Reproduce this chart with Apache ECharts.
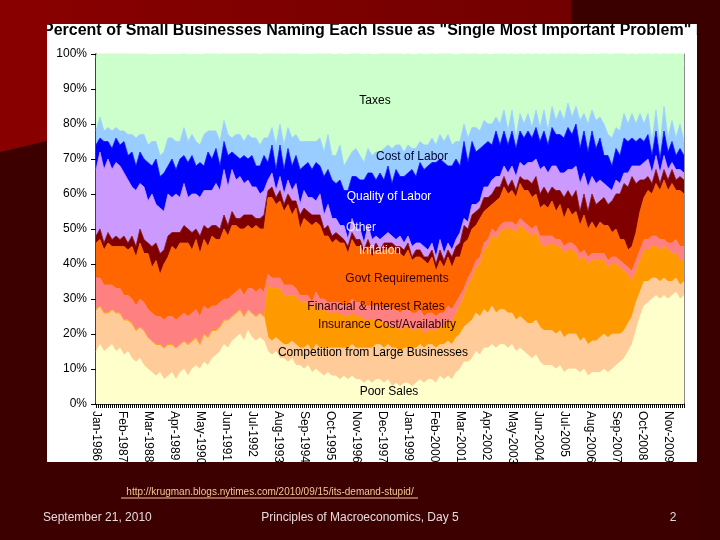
<!DOCTYPE html>
<html><head><meta charset="utf-8">
<script src="https://cdn.jsdelivr.net/npm/echarts@6/dist/echarts.min.js"></script>
<style>html,body{margin:0;padding:0;background:#3C0000}#c{width:720px;height:540px}</style>
</head><body><div id="c"></div>
<script>
// x tick labels (every 13 months, starting Jan-1986)
const xTickLabels = ['Jan-1986','Feb-1987','Mar-1988','Apr-1989','May-1990','Jun-1991','Jul-1992','Aug-1993','Sep-1994','Oct-1995','Nov-1996','Dec-1997','Jan-1999','Feb-2000','Mar-2001','Apr-2002','May-2003','Jun-2004','Jul-2005','Aug-2006','Sep-2007','Oct-2008','Nov-2009'];
// values (%) sampled every 2 months from Jan-1986 (6 per year; 2010: Jan,Mar,May,Jul)
const STEP = 2;
const poorSales = [15,17,15,16,17,15, 16,14,15,13,12,13, 11,10,9,8,9,7, 8,9,7,9,10,8, 10,11,10,12,11,13, 14,15,17,16,18,19, 20,18,21,19,18,19, 18,15,14,15,13,13, 12,13,11,11,10,11, 9,10,9,8,9,8, 8,7,8,7,8,7, 7,6,7,6,7,7, 6,7,5,6,5,6, 6,5,6,7,6,7, 7,6,8,7,8,7, 9,10,12,12,13,15, 14,16,16,17,16,17, 17,16,17,15,16,15, 14,13,14,12,11,11, 11,10,11,9,10,10, 10,9,10,8,9,9, 9,10,9,10,11,12, 13,15,17,21,25,28, 29,30,31,30,31,30, 31,32,30,31];
const competition = [12,11,11,10,10,11, 10,10,9,10,9,9, 10,9,9,9,8,9, 9,8,9,8,8,9, 8,8,7,8,8,8, 7,7,7,8,7,7, 7,7,6,7,7,7, 7,4,4,4,5,4, 5,5,6,5,6,6, 6,7,7,8,7,8, 8,9,8,9,9,9, 9,10,9,10,10,10, 10,10,11,10,10,10, 10,11,10,10,10,10, 10,10,9,10,10,10, 10,10,10,11,11,11, 11,11,10,11,10,10, 10,10,9,9,9,9, 9,10,10,10,10,10, 10,10,10,10,10,10, 10,9,9,9,9,9, 10,10,10,10,9,8, 8,8,8,8,7,7, 6,6,5,5,5,5, 4,4,4,4];
const insurance = [0,0,0,0,0,0, 0,0,0,0,0,0, 0,0,0,0,0,0, 0,0,0,0,0,0, 0,0,0,0,0,0, 0,0,0,0,0,0, 0,0,0,0,0,0, 0,15,15,14,15,14, 14,13,14,13,13,12, 12,12,11,11,10,10, 10,10,9,9,9,9, 9,8,8,8,7,7, 7,6,6,6,6,6, 6,5,5,5,4,4, 4,5,5,5,6,6, 7,8,9,11,12,13, 15,17,19,20,21,22, 23,24,24,25,26,26, 26,25,25,24,24,24, 25,25,24,24,24,24, 23,23,23,23,23,23, 22,21,20,20,20,19, 17,14,10,9,9,9, 9,9,9,9,9,9, 8,7,7,6];
const financial = [9,8,8,8,7,7, 7,7,7,7,7,8, 8,8,8,8,8,8, 8,8,8,8,8,8, 8,8,8,8,8,7, 7,7,6,6,6,6, 6,6,6,7,7,7, 7,3,3,3,3,3, 3,3,2,2,2,2, 2,3,3,3,3,3, 3,3,3,3,4,4, 4,4,4,4,4,4, 4,5,5,5,5,5, 5,5,5,5,5,5, 5,4,4,4,4,4, 3,3,2,2,2,2, 2,2,2,2,2,2, 2,2,2,2,2,2, 2,2,2,2,3,3, 2,2,2,2,2,2, 2,2,2,2,2,2, 2,2,2,2,2,2, 2,2,3,3,3,3, 3,3,3,3,2,2, 3,4,4,4];
const govtReq = [10,11,10,12,11,12, 12,14,13,15,14,16, 14,16,13,16,12,16, 17,20,20,21,20,21, 18,20,18,19,18,20, 19,18,20,18,20,19, 17,19,18,17,19,17, 18,22,23,21,22,21, 23,20,23,19,22,21, 22,20,21,18,19,17, 18,17,18,15,17,16, 16,15,17,14,16,15, 17,16,18,16,17,15, 17,15,16,15,16,14, 16,13,15,13,14,12, 13,11,13,11,12,10, 11,9,9,7,9,8, 10,8,9,8,10,9, 10,9,9,8,9,8, 10,8,10,8,10,8, 10,8,10,8,9,7, 9,8,10,7,8,6, 7,5,7,8,11,12, 14,12,15,14,17,15, 17,14,16,15];
const inflation = [2,3,2,3,2,3, 2,3,2,3,3,4, 4,3,6,5,6,4, 6,4,5,3,5,4, 5,3,5,4,5,3, 4,3,4,3,4,2, 3,4,3,4,2,3, 4,2,3,2,3,2, 3,4,2,4,3,3, 3,2,3,2,3,2, 2,2,1,2,2,2, 2,1,2,2,2,1, 2,2,1,2,2,2, 2,1,2,2,1,2, 2,2,3,2,2,3, 3,4,5,3,4,4, 3,4,3,3,4,3, 3,2,3,2,2,3, 3,4,5,4,5,4, 4,6,4,6,5,5, 6,4,6,5,8,7, 6,8,6,9,10,13, 16,18,20,14,9,5, 4,3,4,2,3,3, 4,3,4,4];
const other = [19,22,21,21,20,21, 21,18,18,14,16,13, 15,12,15,11,13,11, 12,10,11,10,12,9, 11,10,11,10,11,10, 12,11,13,11,12,11, 12,9,10,8,9,7, 7,3,4,2,4,3, 4,3,5,3,5,4, 5,4,6,4,6,5, 4,3,4,2,4,3, 3,2,4,3,2,3, 2,3,2,2,3,2, 2,3,2,2,3,2, 2,2,3,2,2,2, 2,3,2,2,3,2, 2,3,3,4,3,3, 3,4,4,4,4,4, 5,6,5,7,6,6, 6,7,5,7,6,8, 7,8,6,7,5,6, 6,4,5,3,4,3, 3,4,3,5,4,5, 5,3,4,3,4,3, 2,3,2,2];
const qualityLabor = [7,4,8,5,6,7, 6,9,7,10,7,9, 8,11,8,13,9,11, 8,11,7,11,8,10, 11,8,10,7,11,9, 10,7,8,9,5,7, 5,8,6,9,6,8, 10,5,8,6,9,7, 9,7,8,10,7,10, 8,11,8,11,10,11, 10,13,10,14,12,15, 14,18,15,19,16,19, 16,19,15,20,17,19, 18,22,19,23,22,24, 23,27,23,26,22,24, 23,19,22,17,18,15, 15,12,13,10,13,9, 10,8,10,8,9,8, 9,7,9,8,10,8, 11,9,11,10,12,10, 12,10,12,10,13,10, 12,8,9,7,9,8, 10,9,8,7,8,6, 7,5,7,4,7,5, 6,4,6,5];
const costLabor = [4,6,3,4,5,3, 4,3,6,5,8,5, 7,5,7,5,6,6, 8,6,8,5,8,6, 6,7,5,9,6,8, 5,7,6,6,4,6, 7,4,7,5,8,6, 5,7,5,7,6,7, 6,8,6,8,7,6, 8,6,8,7,10,7, 8,10,7,9,7,8, 7,5,7,5,8,6, 9,6,10,7,9,7, 8,6,8,6,7,6, 7,5,7,6,9,6, 5,7,5,7,4,7, 5,7,5,6,4,6, 6,4,6,3,5,4, 5,3,5,4,6,4, 6,4,7,5,7,5, 5,8,5,8,6,8, 6,9,6,8,6,7, 7,5,7,5,7,5, 6,4,6,4,7,4, 6,5,7,4];
const taxes = [21,22,22,23,22,23, 23,23,23,24,24,24, 24,24,24,25,26,24, 24,23,23,23,23,23, 23,23,23,23,23,22, 23,23,23,24,24,24, 24,25,25,25,25,25, 25,25,25,24,24,24, 24,24,24,24,24,24, 25,25,26,27,28,28, 28,29,29,29,29,29, 29,29,28,28,28,28, 28,27,27,27,27,27, 27,26,26,26,25,25, 25,25,25,25,25,25, 25,24,24,23,22,22, 21,20,20,19,19,19, 19,18,18,18,18,18, 18,18,18,18,18,18, 18,18,18,18,17,17, 17,17,17,17,17,17, 18,21,23,23,23,22, 20,18,18,18,18,19, 21,21,21,21,21,22, 22,22,22,22];

const seriesList = [
  ['Poor Sales', poorSales, '#FFFFCC'],
  ['Competition from Large Businesses', competition, '#FFCC99'],
  ['Insurance Cost/Availablity', insurance, '#FF9900'],
  ['Financial & Interest Rates', financial, '#FF8080'],
  ['Govt Requirements', govtReq, '#FF6600'],
  ['Inflation', inflation, '#800000'],
  ['Other', other, '#CC99FF'],
  ['Quality of Labor', qualityLabor, '#0000FF'],
  ['Cost of Labor', costLabor, '#99CCFF'],
  ['Taxes', taxes, '#CCFFCC']
];
// month index of each sample along the month axis
const sampleMonths = poorSales.map((_, i) => String(i * STEP));

const annotations = [
  ['Taxes', 375, 101, '#000000'],
  ['Cost of Labor', 412, 157, '#000033'],
  ['Quality of Labor', 389, 197, '#FFFFFF'],
  ['Other', 361, 228, '#EEE4FF'],
  ['Inflation', 380, 251, '#FFE0C8'],
  ['Govt Requirements', 397, 279, '#330000'],
  ['Financial & Interest Rates', 376, 307, '#330000'],
  ['Insurance Cost/Availablity', 387, 325, '#330000'],
  ['Competition from Large Businesses', 373, 353, '#000000'],
  ['Poor Sales', 389, 392, '#000000']
];

const chart = echarts.init(document.getElementById('c'), null, {renderer: 'canvas'});
const FONT = 'Liberation Sans, Arial, sans-serif';

const graphics = [
  {type: 'polygon', z: -3, silent: true,
   shape: {points: [[0,0],[571,0],[571,24],[47,24],[47,141],[0,152]]},
   style: {fill: new echarts.graphic.LinearGradient(0,0,1,0,[{offset:0,color:'#8A0000'},{offset:1,color:'#720000'}])}},
  {type: 'rect', z: -3, silent: true, shape: {x: 697, y: 0, width: 23, height: 540}, style: {fill: '#3A0000'}},
  {type: 'rect', z: -3, silent: true, shape: {x: 571, y: 0, width: 149, height: 24}, style: {fill: '#3A0000'}},
  {type: 'rect', z: -6, silent: true, shape: {x: 47, y: 24, width: 650, height: 438}, style: {fill: '#FFFFFF'}},
  {type: 'text', z: -5, silent: true, x: 43, y: 31,
   style: {text: 'Percent of Small Businesses Naming Each Issue as "Single Most Important Problem" by Month',
           font: 'bold 16px ' + FONT, fill: '#000000', textVerticalAlign: 'middle'}},
  {type: 'text', z: -1, silent: true, x: 270, y: 492,
   style: {text: 'http://krugman.blogs.nytimes.com/2010/09/15/its-demand-stupid/', font: '10px ' + FONT, fill: '#F2C896', textAlign: 'center', textVerticalAlign: 'middle'}},
  {type: 'line', z: -1, silent: true, shape: {x1: 121, y1: 498, x2: 418, y2: 498}, style: {stroke: '#F2C896', lineWidth: 1}},
  {type: 'text', z: -1, silent: true, x: 43, y: 518,
   style: {text: 'September 21, 2010', font: '12px ' + FONT, fill: '#E6DADA', textVerticalAlign: 'middle'}},
  {type: 'text', z: -1, silent: true, x: 360, y: 518,
   style: {text: 'Principles of Macroeconomics, Day 5', font: '12px ' + FONT, fill: '#E6DADA', textAlign: 'center', textVerticalAlign: 'middle'}},
  {type: 'text', z: -1, silent: true, x: 673, y: 518,
   style: {text: '2', font: '12px ' + FONT, fill: '#E6DADA', textAlign: 'center', textVerticalAlign: 'middle'}}
];
annotations.forEach(a => graphics.push({
  type: 'text', z: 100, silent: true, x: a[1], y: a[2],
  style: {text: a[0], font: '12px ' + FONT, fill: a[3], textAlign: 'center', textVerticalAlign: 'middle'}
}));

chart.setOption({
  animation: false,
  backgroundColor: '#3C0000',
  grid: {left: 96, right: 36, top: 54, bottom: 136, show: true, backgroundColor: '#CCFFCC', borderWidth: 0},
  xAxis: [{
    type: 'category', data: sampleMonths, boundaryGap: false, show: false
  }, {
    type: 'value', min: 0, max: 294, interval: 13, position: 'bottom',
    axisLine: {show: true, lineStyle: {color: '#000', width: 1.5}},
    axisTick: {show: true, length: 4, lineStyle: {color: '#000'}},
    minorTick: {show: true, splitNumber: 13, length: 4, lineStyle: {color: '#000'}},
    splitLine: {show: false}, minorSplitLine: {show: false},
    axisLabel: {rotate: -90, fontSize: 12, color: '#000', fontFamily: FONT, margin: 7,
      formatter: v => xTickLabels[Math.round(v / 13)] || ''}
  }],
  yAxis: [{
    type: 'value', min: 0, max: 100, interval: 10,
    axisLine: {show: true, lineStyle: {color: '#000', width: 1.5}},
    axisTick: {show: true, length: 5, lineStyle: {color: '#000'}},
    splitLine: {show: false},
    axisLabel: {formatter: '{value}%', fontSize: 12, color: '#000', fontFamily: FONT, margin: 9}
  }, {
    type: 'value', min: 0, max: 100, position: 'right',
    axisLine: {show: true, lineStyle: {color: '#8C8C8C', width: 1}},
    axisTick: {show: false}, axisLabel: {show: false}, splitLine: {show: false}
  }],
  graphic: graphics,
  series: seriesList.map(s => ({
    type: 'line', name: s[0], stack: 'total', symbol: 'none', silent: true, clip: true,
    xAxisIndex: 0, yAxisIndex: 0,
    data: s[1],
    lineStyle: {width: 0.8, color: s[2]},
    itemStyle: {color: s[2]},
    areaStyle: {color: s[2], opacity: 1}
  }))
});
</script></body></html>
